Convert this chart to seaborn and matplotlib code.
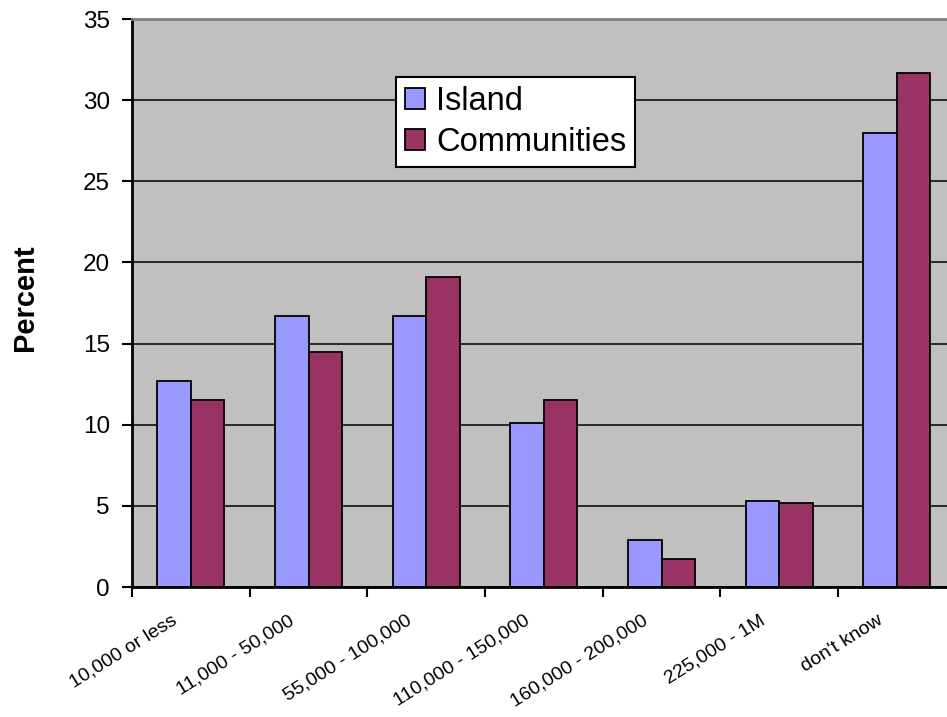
import numpy as np
import pandas as pd
import matplotlib
matplotlib.use("Agg")
import matplotlib.pyplot as plt
import matplotlib.transforms as mtransforms
import seaborn as sns

# Income brackets and percent of respondents per group
categories = ["10,000 or less", "11,000 - 50,000", "55,000 - 100,000",
              "110,000 - 150,000", "160,000 - 200,000", "225,000 - 1M", "don't know"]
island = [12.7, 16.7, 16.7, 10.1, 2.9, 5.3, 28.0]
communities = [11.5, 14.5, 19.1, 11.5, 1.7, 5.2, 31.7]
groups = ["Island", "Communities"]
colors = ["#9999FF", "#993366"]

df = pd.DataFrame({
    "Income": categories * 2,
    "Group": [groups[0]] * len(categories) + [groups[1]] * len(categories),
    "Percent": island + communities,
})

sns.set_style("white")
plt.rcParams["font.family"] = ["Liberation Sans", "DejaVu Sans"]
plt.rcParams["text.color"] = "black"
plt.rcParams["xtick.color"] = "black"
plt.rcParams["ytick.color"] = "black"
plt.rcParams["axes.labelcolor"] = "black"

fig = plt.figure(figsize=(9.47, 7.17), dpi=100)
ax = fig.add_axes([132 / 947, 130 / 717, 823.7 / 947, 568 / 717])
ax.set_facecolor("#C0C0C0")

sns.barplot(data=df, x="Income", y="Percent", hue="Group", order=categories,
            hue_order=groups, palette=colors, width=0.57, edgecolor="black",
            linewidth=1.3, saturation=1, ax=ax)

ax.set_xlim(-0.5, len(categories) - 0.5)
ax.set_ylim(0, 35)
ax.set_yticks(np.arange(0, 36, 5))
ax.yaxis.grid(True, color="black", linewidth=1.1)
ax.set_axisbelow(True)

# ticks on category boundaries, labels at category centres
ax.set_xticks(np.arange(-0.5, len(categories), 1.0))
ax.set_xticklabels([])
ax.set_xticks(np.arange(len(categories)), minor=True)
ax.set_xticklabels(categories, minor=True, rotation=32, ha="right", va="top",
                   rotation_mode="anchor", fontsize=14)
ax.tick_params(axis="x", which="minor", length=0, pad=18)
ax.tick_params(axis="x", which="major", direction="out", length=7, width=1.5,
               color="black", bottom=True)
ax.tick_params(axis="y", direction="out", length=7, width=1.5, color="black",
               left=True, labelsize=17.5, pad=9)
offset = mtransforms.ScaledTranslation(-20 / 100, 0, fig.dpi_scale_trans)
for lbl in ax.get_xticklabels(minor=True):
    lbl.set_transform(lbl.get_transform() + offset)

ax.set_xlabel("")
ax.set_ylabel("Percent", fontsize=21, fontweight="bold")
ax.yaxis.set_label_coords(-0.113, 0.51)

for side in ["left", "bottom"]:
    ax.spines[side].set_color("black")
    ax.spines[side].set_linewidth(2)
ax.spines["top"].set_color("#808080")
ax.spines["top"].set_linewidth(2)
ax.spines["right"].set_visible(False)

leg = ax.legend(loc="upper left", bbox_to_anchor=(0.3205, 0.898), borderaxespad=0,
                fontsize=23.5, frameon=True, fancybox=False, framealpha=1,
                edgecolor="black", handlelength=0.6, handleheight=0.6,
                handletextpad=0.35, labelspacing=0.3, borderpad=0.28)
leg.get_frame().set_linewidth(1.5)
for h in leg.legend_handles:
    h.set_edgecolor("black")
    h.set_linewidth(1.3)

fig.savefig("out.png", dpi=100)
